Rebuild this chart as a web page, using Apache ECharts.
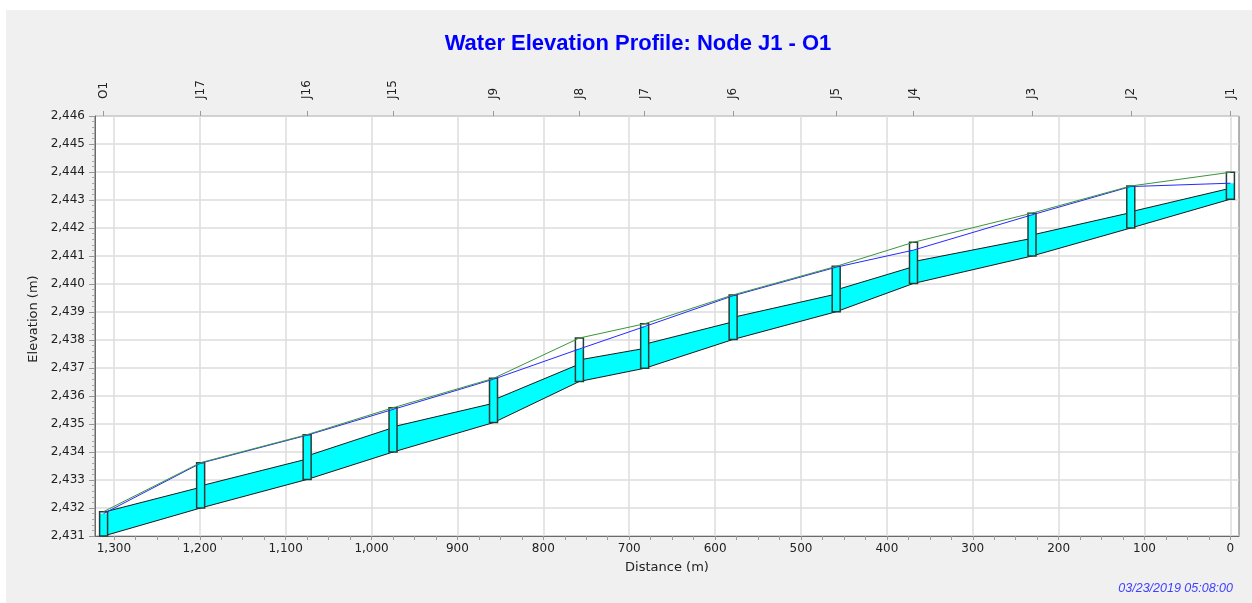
<!DOCTYPE html>
<html>
  <head>
    <meta charset="utf-8" />
    <title>Water Elevation Profile</title>
    <style>
      body { margin: 0; background: #ffffff; }
      #chart { position: absolute; left: 6px; top: 10px; width: 1246px; height: 593px; }
    </style>
  </head>
  <body>
    <script src="https://cdn.jsdelivr.net/npm/echarts/dist/echarts.min.js"></script>

    <div id="chart"></div>

    <script>
      // profile O1 -> J1, distance measured from J1 (m)
      const nodeNames = ['O1', 'J17', 'J16', 'J15', 'J9', 'J8', 'J7', 'J6', 'J5', 'J4', 'J3', 'J2', 'J1'];
      const nodeDist = [1312, 1199, 1075, 975, 858, 758, 682, 579, 459, 369, 231, 116, 0];
      const nodeInvert = [2431.0, 2432.0, 2433.02, 2434.0, 2435.05, 2436.52, 2436.99, 2438.02, 2439.01, 2440.02, 2441.0, 2442.0, 2443.03];
      const nodeRim = [2431.87, 2433.62, 2434.62, 2435.58, 2436.63, 2438.07, 2438.58, 2439.61, 2440.63, 2441.49, 2442.53, 2443.5, 2443.99];
      const nodeHead = [2431.8, 2433.6, 2434.6, 2435.52, 2436.6, 2437.68, 2438.48, 2439.58, 2440.6, 2441.21, 2442.47, 2443.48, 2443.6];

      // conduit crown at each end (left = downstream node, right = upstream node)
      const crownLeft = [2431.85, 2432.79, 2433.86, 2434.9, 2435.86, 2437.29, 2437.85, 2438.81, 2439.79, 2440.8, 2441.75, 2442.58];
      const crownRight = [2432.74, 2433.75, 2434.87, 2435.74, 2437.14, 2437.7, 2438.65, 2439.64, 2440.62, 2441.63, 2442.55, 2443.42];

      const xTicks = [0, 100, 200, 300, 400, 500, 600, 700, 800, 900, 1000, 1100, 1200, 1300];
      const xMinorTicks = [];
      for (let v = 0; v <= 1300; v += 25) xMinorTicks.push(v);

      const font = "'DejaVu Sans', sans-serif";
      const titleFont = "'Liberation Sans', Arial, sans-serif";
      const withComma = (v) => String(v).replace(/(\d)(\d{3})$/, '$1,$2');

      const conduits = crownLeft.map((c, i) => [
        nodeDist[i], nodeDist[i + 1], nodeInvert[i], nodeInvert[i + 1], c, crownRight[i],
      ]);
      const nodes = nodeDist.map((d, i) => [d, nodeInvert[i], nodeRim[i], nodeHead[i]]);

      function renderConduit(params, api) {
        const bl = api.coord([api.value(0), api.value(2)]);
        const br = api.coord([api.value(1), api.value(3)]);
        const tl = api.coord([api.value(0), api.value(4)]);
        const tr = api.coord([api.value(1), api.value(5)]);
        const line = { stroke: '#1a1a1a', lineWidth: 1, fill: null };
        return {
          type: 'group',
          children: [
            { type: 'polygon', shape: { points: [bl, br, tr, tl] }, style: { fill: '#00ffff' } },
            { type: 'line', shape: { x1: bl[0], y1: bl[1], x2: br[0], y2: br[1] }, style: line },
            { type: 'line', shape: { x1: tl[0], y1: tl[1], x2: tr[0], y2: tr[1] }, style: line },
          ],
        };
      }

      function renderNode(params, api) {
        const bot = api.coord([api.value(0), api.value(1)]);
        const top = api.coord([api.value(0), api.value(2)]);
        const wat = api.coord([api.value(0), api.value(3)]);
        const w = 8;
        const x = bot[0] - w / 2;
        return {
          type: 'group',
          children: [
            { type: 'rect', shape: { x: x, y: top[1], width: w, height: bot[1] - top[1] }, style: { fill: '#ffffff' } },
            { type: 'rect', shape: { x: x, y: wat[1], width: w, height: bot[1] - wat[1] }, style: { fill: '#00ffff' } },
            { type: 'rect', shape: { x: x, y: top[1], width: w, height: bot[1] - top[1] }, style: { fill: null, stroke: '#263c36', lineWidth: 1.5 } },
          ],
        };
      }

      let chart = echarts.init(document.getElementById('chart'), null, { width: 1246, height: 593 });

      let opts = {
        animation: false,
        backgroundColor: '#f0f0f0',
        textStyle: { fontFamily: font },
        title: [
          {
            text: 'Water Elevation Profile: Node J1 - O1',
            left: 627,
            textAlign: 'center',
            top: 18,
            textStyle: { color: '#0000ff', fontSize: 22, fontWeight: 'bold', fontFamily: titleFont },
          },
          {
            text: '03/23/2019 05:08:00',
            right: 14,
            bottom: 3,
            textStyle: { color: '#4040ff', fontSize: 12.5, fontStyle: 'italic', fontWeight: 'normal', fontFamily: titleFont },
          },
        ],
        grid: {
          left: 89,
          top: 106,
          width: 1144,
          height: 420,
          show: true,
          backgroundColor: '#ffffff',
          borderColor: '#6a6a6a',
          borderWidth: 1,
        },
        xAxis: [
          {
            type: 'value',
            inverse: true,
            min: -10,
            max: 1322,
            position: 'bottom',
            name: 'Distance (m)',
            nameLocation: 'middle',
            nameGap: 25,
            nameTextStyle: { color: '#222', fontSize: 13 },
            axisLine: { onZero: false, lineStyle: { color: '#6a6a6a' } },
            axisTick: { customValues: xTicks, length: 4, lineStyle: { color: '#999' } },
            axisLabel: { customValues: xTicks, color: '#222', fontSize: 12, margin: 7, formatter: withComma },
            splitLine: { show: true, lineStyle: { color: '#dcdcdc', width: 1.5 } },
          },
          {
            type: 'value',
            inverse: true,
            min: -10,
            max: 1322,
            position: 'bottom',
            axisLine: { show: false, onZero: false },
            axisTick: { customValues: xMinorTicks, length: 4, lineStyle: { color: '#999' } },
            axisLabel: { show: false },
            splitLine: { show: false },
          },
          {
            type: 'value',
            inverse: true,
            min: -10,
            max: 1322,
            position: 'top',
            axisLine: { show: false, onZero: false },
            axisTick: { customValues: nodeDist, length: 5, lineStyle: { color: '#999' } },
            axisLabel: {
              customValues: nodeDist,
              rotate: -90,
              color: '#222',
              fontSize: 12,
              margin: 17,
              formatter: (v) => nodeNames[nodeDist.indexOf(v)],
            },
            splitLine: { show: false },
          },
        ],
        yAxis: {
          type: 'value',
          min: 2431,
          max: 2446,
          interval: 1,
          name: 'Elevation (m)',
          nameLocation: 'middle',
          nameGap: 55,
          nameTextStyle: { color: '#222', fontSize: 13, padding: [0, 0, 0, 14] },
          axisLine: { show: true, onZero: false, lineStyle: { color: '#6a6a6a' } },
          axisTick: { show: true, length: 6, lineStyle: { color: '#999' } },
          minorTick: { show: true, splitNumber: 5, length: 3, lineStyle: { color: '#aaa' } },
          axisLabel: { color: '#222', fontSize: 12, margin: 10, formatter: withComma },
          splitLine: { show: true, lineStyle: { color: '#dcdcdc', width: 1.5 } },
        },
        series: [
          {
            name: 'Conduits',
            type: 'custom',
            xAxisIndex: 0,
            z: 2,
            renderItem: renderConduit,
            encode: { x: [0, 1], y: [2, 3, 4, 5] },
            data: conduits,
          },
          {
            name: 'Nodes',
            type: 'custom',
            xAxisIndex: 0,
            z: 3,
            renderItem: renderNode,
            encode: { x: 0, y: [1, 2, 3] },
            data: nodes,
          },
          {
            name: 'HGL',
            type: 'line',
            xAxisIndex: 0,
            z: 4,
            symbol: 'none',
            lineStyle: { color: '#2828ff', width: 1 },
            data: nodeDist.map((d, i) => [d, nodeHead[i]]),
          },
          {
            name: 'Ground',
            type: 'line',
            xAxisIndex: 0,
            z: 5,
            symbol: 'none',
            lineStyle: { color: '#3a963a', width: 1 },
            data: nodeDist.map((d, i) => [d, nodeRim[i]]),
          },
        ],
      };

      chart.setOption(opts, { notMerge: true });
    </script>
  </body>
</html>
